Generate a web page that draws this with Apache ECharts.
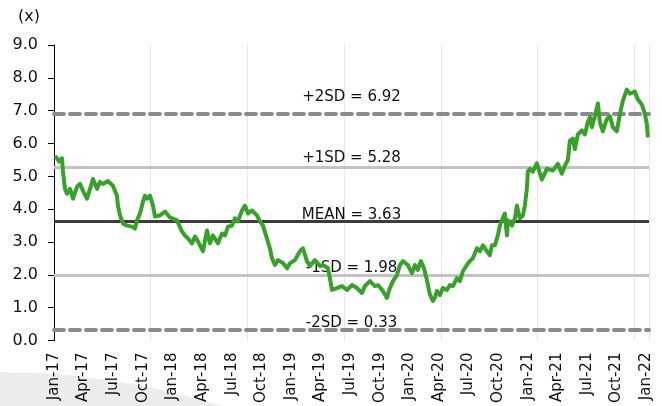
<!DOCTYPE html>
<html>
<head>
<meta charset="utf-8">
<script src="https://cdn.jsdelivr.net/npm/echarts@6/dist/echarts.min.js"></script>
<style>
html,body{margin:0;padding:0;background:#fff;}
#chart{width:662px;height:406px;}
</style>
</head>
<body>
<div id="chart"></div>
<script>
// Months elapsed since 1 Jan 2017 for each reading
const monthsSinceJan17 = [
0.10,0.30,0.51,0.81,0.91,1.11,1.32,1.62,1.93,2.33,2.63,2.94,3.34,3.65,3.95,4.36,4.66,4.96,5.47,5.98,
6.38,6.48,6.69,6.99,7.40,7.90,8.21,8.41,8.71,9.02,9.22,9.42,9.73,10.03,10.23,10.74,11.25,11.75,12.46,12.77,
12.97,13.27,13.58,13.98,14.29,14.59,15.10,15.50,15.81,16.11,16.62,17.02,17.33,17.63,18.03,18.34,18.64,19.05,19.35,19.66,
20.06,20.57,20.87,21.18,21.58,21.88,22.09,22.39,22.70,23.20,23.61,23.91,24.42,24.92,25.23,25.63,25.94,26.44,26.95,27.25,
27.76,27.96,28.17,28.67,29.18,29.69,30.19,30.70,31.21,31.51,32.02,32.52,32.83,33.33,33.74,34.04,34.35,34.75,35.06,35.36,
35.87,36.27,36.58,36.88,37.18,37.49,37.79,38.10,38.40,38.60,38.80,39.11,39.41,39.82,40.12,40.43,40.83,41.13,41.44,41.84,
42.15,42.45,42.86,43.16,43.47,43.87,44.17,44.38,44.68,44.98,45.19,45.39,45.69,45.90,46.00,46.40,46.71,46.91,47.21,47.52,
47.72,47.92,48.02,48.23,48.53,48.94,49.44,49.95,50.56,51.06,51.47,51.77,52.08,52.28,52.58,52.79,53.09,53.50,53.80,54.10,
54.31,54.51,54.81,55.12,55.32,55.62,56.02,56.33,56.64,57.04,57.35,57.65,58.05,58.36,58.87,59.17,59.57,59.88,60.08,60.18
];
// P/E multiple (x)
const multiple = [
5.62,5.55,5.45,5.55,5.14,4.62,4.47,4.62,4.32,4.68,4.77,4.56,4.32,4.62,4.92,4.62,4.83,4.77,4.86,4.71,
4.41,4.11,3.81,3.56,3.50,3.47,3.41,3.66,3.87,4.23,4.41,4.32,4.41,4.11,3.78,3.81,3.93,3.75,3.66,3.45,
3.32,3.20,3.11,2.96,3.17,3.02,2.72,3.35,2.96,3.20,2.96,3.26,3.20,3.47,3.50,3.72,3.63,3.96,4.11,3.87,
3.96,3.81,3.63,3.50,3.11,2.81,2.51,2.30,2.45,2.36,2.20,2.35,2.45,2.72,2.81,2.42,2.27,2.45,2.27,2.30,
2.20,1.90,1.54,1.60,1.66,1.54,1.69,1.60,1.45,1.66,1.81,1.66,1.69,1.51,1.30,1.60,1.81,1.99,2.30,2.42,
2.30,2.05,2.30,2.15,2.42,2.20,1.85,1.40,1.21,1.30,1.51,1.39,1.60,1.54,1.69,1.66,1.90,1.81,2.11,2.30,
2.42,2.51,2.81,2.72,2.90,2.72,2.60,2.90,2.90,3.20,3.50,3.66,3.87,3.20,3.66,3.50,3.72,4.11,3.72,3.81,
4.11,4.62,5.14,5.23,5.14,5.40,4.90,5.23,5.18,5.38,5.08,5.32,5.50,6.08,6.15,5.83,6.28,6.40,6.28,6.65,
6.80,6.50,6.83,7.22,6.65,6.37,6.74,6.83,6.50,6.37,6.90,7.30,7.64,7.52,7.58,7.34,7.19,6.90,6.60,6.19
];
const tickLabels = ['Jan-17','Apr-17','Jul-17','Oct-17','Jan-18','Apr-18','Jul-18','Oct-18','Jan-19','Apr-19','Jul-19',
  'Oct-19','Jan-20','Apr-20','Jul-20','Oct-20','Jan-21','Apr-21','Jul-21','Oct-21','Jan-22'];
const bandNames = ['+2SD','+1SD','MEAN','-1SD','-2SD'];
const bandValues = [6.92,5.28,3.63,1.98,0.33];

const bandStyles = [
  {color:'#8a8a8a', type:[10,6], width:4, cap:'round', dist:9},
  {color:'#c3c3c3', type:'solid', width:3, cap:'butt', dist:2},
  {color:'#3c3c3c', type:'solid', width:3, cap:'butt', dist:-1},
  {color:'#c3c3c3', type:'solid', width:3, cap:'butt', dist:0},
  {color:'#8a8a8a', type:[10,6], width:4, cap:'round', dist:-1}
];

const FONT = 'DejaVu Sans';
const chart = echarts.init(document.getElementById('chart'), null, {renderer:'canvas'});
const lineData = monthsSinceJan17.map((m,i)=>[m, multiple[i]]);

chart.setOption({
  animation:false,
  backgroundColor:'#ffffff',
  textStyle:{fontFamily:FONT},
  graphic:[{
    type:'circle', silent:true, z:-10,
    shape:{cx:0, cy:1101, r:729},
    style:{fill:'#ececec'}
  }],
  title:{text:'(x)', left:13, top:4, textStyle:{fontFamily:FONT, fontSize:16, fontWeight:'normal', color:'#111'}},
  grid:{left:54, right:13, top:45, bottom:63},
  xAxis:[{
    type:'value', min:0, max:60.3, interval:3,
    axisLine:{show:false}, axisTick:{show:false}, splitLine:{show:false},
    axisLabel:{rotate:90, margin:12, fontFamily:FONT, fontSize:15, color:'#111',
      showMaxLabel:false,
      formatter:function(v){ const i=Math.round(v/3); return (Math.abs(v-i*3)<1e-6 && tickLabels[i])?tickLabels[i]:''; }}
  },{
    type:'value', min:0, max:60.3, interval:9.8, position:'bottom',
    axisLine:{show:false}, axisTick:{show:false}, axisLabel:{show:false},
    splitLine:{show:true, lineStyle:{color:'#e6e6e6', width:1}}
  }],
  yAxis:{
    type:'value', min:0, max:9, interval:1,
    axisLine:{show:true, lineStyle:{color:'#000', width:1}},
    axisTick:{show:true, length:6, lineStyle:{color:'#000'}},
    splitLine:{show:false},
    axisLabel:{margin:16, fontFamily:FONT, fontSize:16, color:'#111', formatter:v=>v.toFixed(1)}
  },
  series:[{
    type:'line', data:lineData, showSymbol:false, symbol:'none',
    lineStyle:{color:'#37a12a', width:4, join:'round'},
    z:5,
    markLine:{
      silent:true, symbol:['none','none'], z:3,
      data: bandValues.map((v,i)=>({
        yAxis:v,
        lineStyle:{color:bandStyles[i].color, type:bandStyles[i].type, width:bandStyles[i].width, cap:bandStyles[i].cap},
        label:{show:true, position:'insideMiddleTop', distance:bandStyles[i].dist, color:'#111', fontFamily:FONT, fontSize:15,
          formatter: bandNames[i] + ' = ' + v.toFixed(2)}
      }))
    }
  }]
});
</script>
</body>
</html>
